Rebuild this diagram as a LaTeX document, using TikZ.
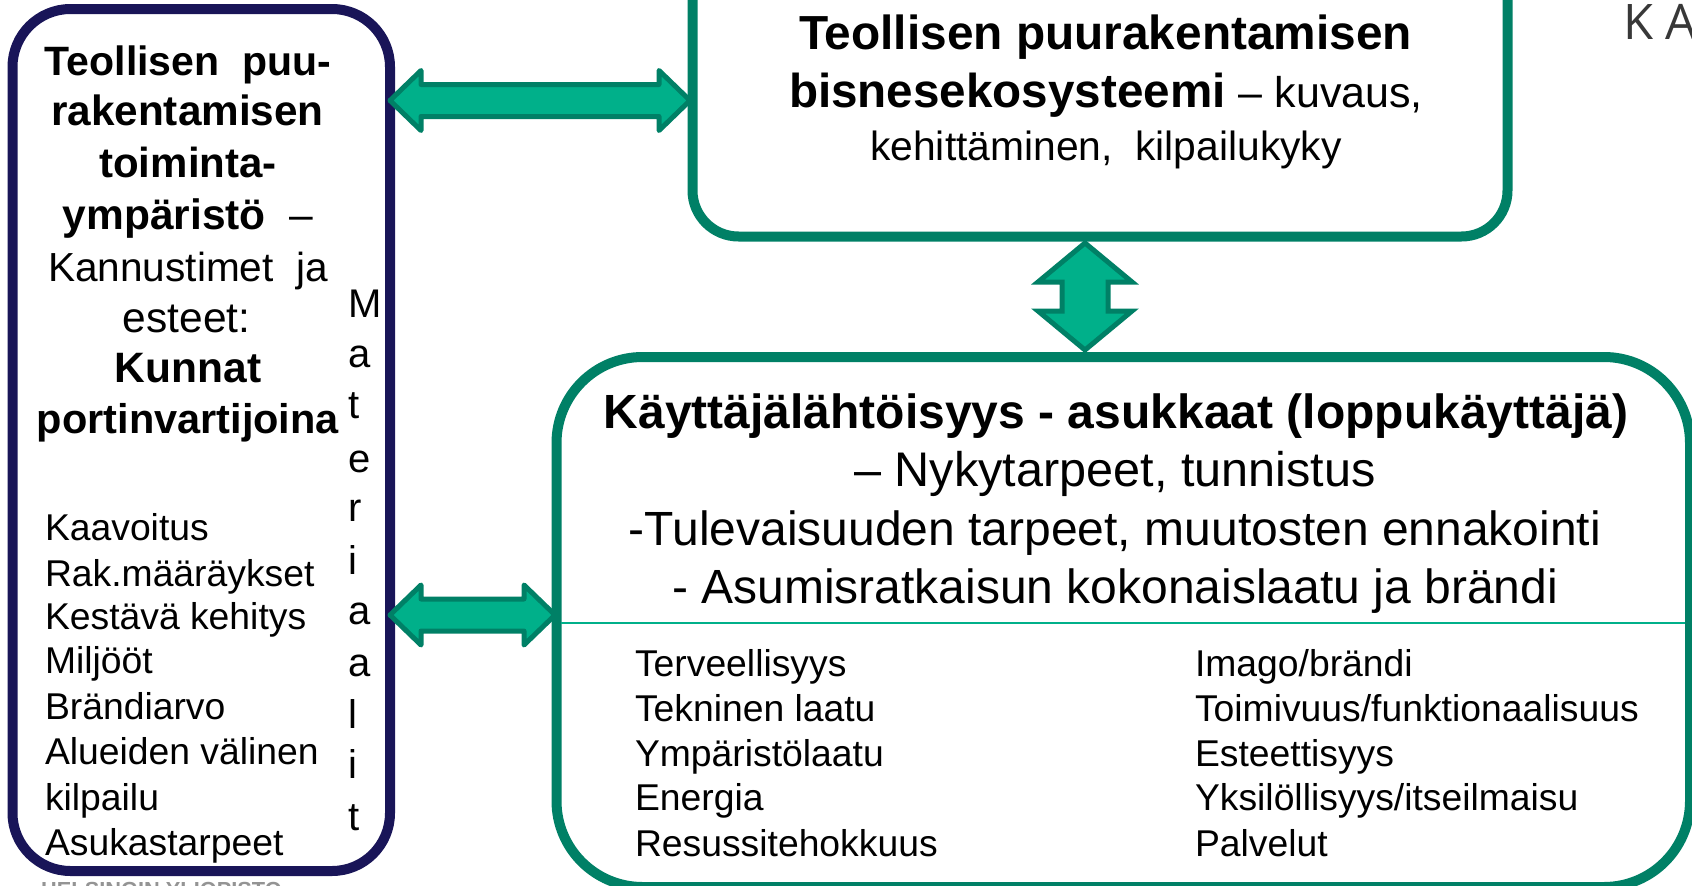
\documentclass[tikz,border=0pt]{standalone}
\usepackage{fontspec}
\setmainfont{Liberation Sans}
\newfontfamily\kafont{Open Sans}
\usetikzlibrary{calc}
\definecolor{navyline}{HTML}{191558}
\definecolor{greenline}{HTML}{008066}
\definecolor{greenfill}{HTML}{00B08A}
\newcommand{\fsz}[1]{\fontsize{#1}{#1}\selectfont}
\tikzset{
  panel/.style={draw=#1,line width=10pt,fill=white,rectangle,inner sep=0pt,outer sep=0pt},
  fatarrow/.style={draw=greenline,fill=greenfill,line width=5pt,line join=round},
  txt/.style={inner sep=0pt,outer sep=0pt,anchor=base,text=black},
  lst/.style={inner sep=0pt,outer sep=0pt,anchor=base west,text=black,font=\fsz{37.3}},
  big/.style={txt,font=\fsz{48}},
  lft/.style={txt,font=\fsz{42}},
  mat/.style={lst,font=\fsz{40}}
}
% horizontal double arrow: from, to, head length, head half width, shaft half width
\newcommand{\fatH}[5]{\draw[fatarrow] let \p1=(#1),\p2=(#2) in
  (\x1,\y1) -- (\x1+#3pt,\y1+#4pt) -- (\x1+#3pt,\y1+#5pt) -- (\x2-#3pt,\y1+#5pt) -- (\x2-#3pt,\y1+#4pt)
  -- (\x2,\y1) -- (\x2-#3pt,\y1-#4pt) -- (\x2-#3pt,\y1-#5pt) -- (\x1+#3pt,\y1-#5pt) -- (\x1+#3pt,\y1-#4pt) -- cycle;}
\newcommand{\fatV}[5]{\draw[fatarrow,line join=miter] let \p1=(#1),\p2=(#2) in
  (\x1,\y1) -- (\x1+#4pt,\y1-#3pt) -- (\x1+#5pt,\y1-#3pt) -- (\x1+#5pt,\y2+#3pt) -- (\x1+#4pt,\y2+#3pt)
  -- (\x1,\y2) -- (\x1-#4pt,\y2+#3pt) -- (\x1-#5pt,\y2+#3pt) -- (\x1-#5pt,\y1-#3pt) -- (\x1-#4pt,\y1-#3pt) -- cycle;}
\begin{document}
\begin{tikzpicture}[x=1pt,y=-1pt]
\useasboundingbox (0,0) rectangle (1692,886);
\clip (0,0) rectangle (1692,886);
\fill[white] (0,0) rectangle (1692,886);

% boxes
\node[panel=navyline,rounded corners=58pt,minimum width=377.5pt,minimum height=862pt] (leftbox) at (201.25,440) {};
\node[panel=greenline,rounded corners=46pt,minimum width=815pt,minimum height=300pt] (topbox) at (1100,86.5) {};
\node[panel=greenline,rounded corners=86pt,minimum width=1133.5pt,minimum height=530pt] (botbox) at (1123.25,622) {};
\coordinate (divL) at (561,623);
\coordinate (divR) at (1685,623);
\draw[greenfill,line width=2.2pt] (divL) -- (divR);

% arrows
\coordinate (a1l) at (390,100.5);
\coordinate (a1r) at (690,100.5);
\coordinate (a2l) at (390,615);
\coordinate (a2r) at (555,615);
\coordinate (a3t) at (1085,243);
\coordinate (a3b) at (1085,350);
\fatH{a1l}{a1r}{31}{30}{16}
\fatH{a2l}{a2r}{31}{30}{16}
\fatV{a3t}{a3b}{39}{47}{23}

% left box
\node[lft,font=\fsz{41}] (l1) at (188,75) {\textbf{Teollisen\ \ puu-}};
\node[lft,font=\fsz{42.3}] (l2) at (187.5,125.5) {\textbf{rakentamisen}};
\node[lft] (l3) at (188,177.5) {\textbf{toiminta-}};
\node[lft,font=\fsz{42.5}] (l4) at (188,229.5) {\textbf{ympäristö}\ \ –};
\node[lft,font=\fsz{40.6}] (l5) at (188,281) {Kannustimet\ \ ja};
\node[lft,font=\fsz{42.5}] (l6) at (186.5,332.5) {esteet:};
\node[lft,font=\fsz{42.5}] (l7) at (188,382.5) {\textbf{Kunnat}};
\node[lft,font=\fsz{41.5}] (l8) at (188,433) {\textbf{portinvartijoina}};

\node[lst] (p1) at (45,540) {Kaavoitus};
\node[lst] (p2) at (45,586) {Rak.määräykset};
\node[lst] (p3) at (45,629) {Kestävä kehitys};
\node[lst] (p4) at (45,673) {Miljööt};
\node[lst] (p5) at (45,719) {Brändiarvo};
\node[lst] (p6) at (45,764) {Alueiden välinen};
\node[lst] (p7) at (45,810) {kilpailu};
\node[lst] (p8) at (45,855) {Asukastarpeet};

% vertical word
\node[mat] (m1) at (348,317) {M};
\node[mat] (m2) at (348,367) {a};
\node[mat] (m3) at (348,418) {t};
\node[mat] (m4) at (348,472) {e};
\node[mat] (m5) at (348,521) {r};
\node[mat] (m6) at (348,574) {i};
\node[mat] (m7) at (348,624) {a};
\node[mat] (m8) at (348,676) {a};
\node[mat] (m9) at (348,728) {l};
\node[mat] (m10) at (348,778) {i};
\node[mat] (m11) at (348,830) {t};

% top box
\node[big,font=\fsz{47.8}] (t1) at (1105.5,49) {\textbf{Teollisen puurakentamisen}};
\node[big,font=\fsz{47.6}] (t2) at (1106,107) {\textbf{bisnesekosysteemi}\ \fsz{43}– kuvaus,};
\node[txt,font=\fsz{40.8}] (t3) at (1106,160) {kehittäminen,\ \ kilpailukyky};

% bottom box
\node[big] (b1) at (1116,428) {\textbf{Käyttäjälähtöisyys - asukkaat (loppukäyttäjä)}};
\node[big,font=\fsz{48.6}] (b2) at (1115,486) {– Nykytarpeet, tunnistus};
\node[big] (b3) at (1115,545) {-Tulevaisuuden tarpeet, muutosten ennakointi};
\node[big] (b4) at (1115,603) {- Asumisratkaisun kokonaislaatu ja brändi};

\node[lst] (c1) at (635,676) {Terveellisyys};
\node[lst] (c2) at (635,721) {Tekninen laatu};
\node[lst] (c3) at (635,766) {Ympäristölaatu};
\node[lst] (c4) at (635,810) {Energia};
\node[lst] (c5) at (635,856) {Resussitehokkuus};

\node[lst] (d1) at (1195,676) {Imago/brändi};
\node[lst] (d2) at (1195,721) {Toimivuus/funktionaalisuus};
\node[lst] (d3) at (1195,766) {Esteettisyys};
\node[lst] (d4) at (1195,810) {Yksilöllisyys/itseilmaisu};
\node[lst] (d5) at (1195,856) {Palvelut};

% fragments at the edges
\node[inner sep=0pt,anchor=base west,text=black!78,font=\kafont\fsz{49}] (ka) at (1623,39) {K Ä};
\node[inner sep=0pt,anchor=base west,text=black!42,font=\bfseries\fsz{21.8}] (hy) at (41,897) {HELSINGIN YLIOPISTO};
\end{tikzpicture}
\end{document}
